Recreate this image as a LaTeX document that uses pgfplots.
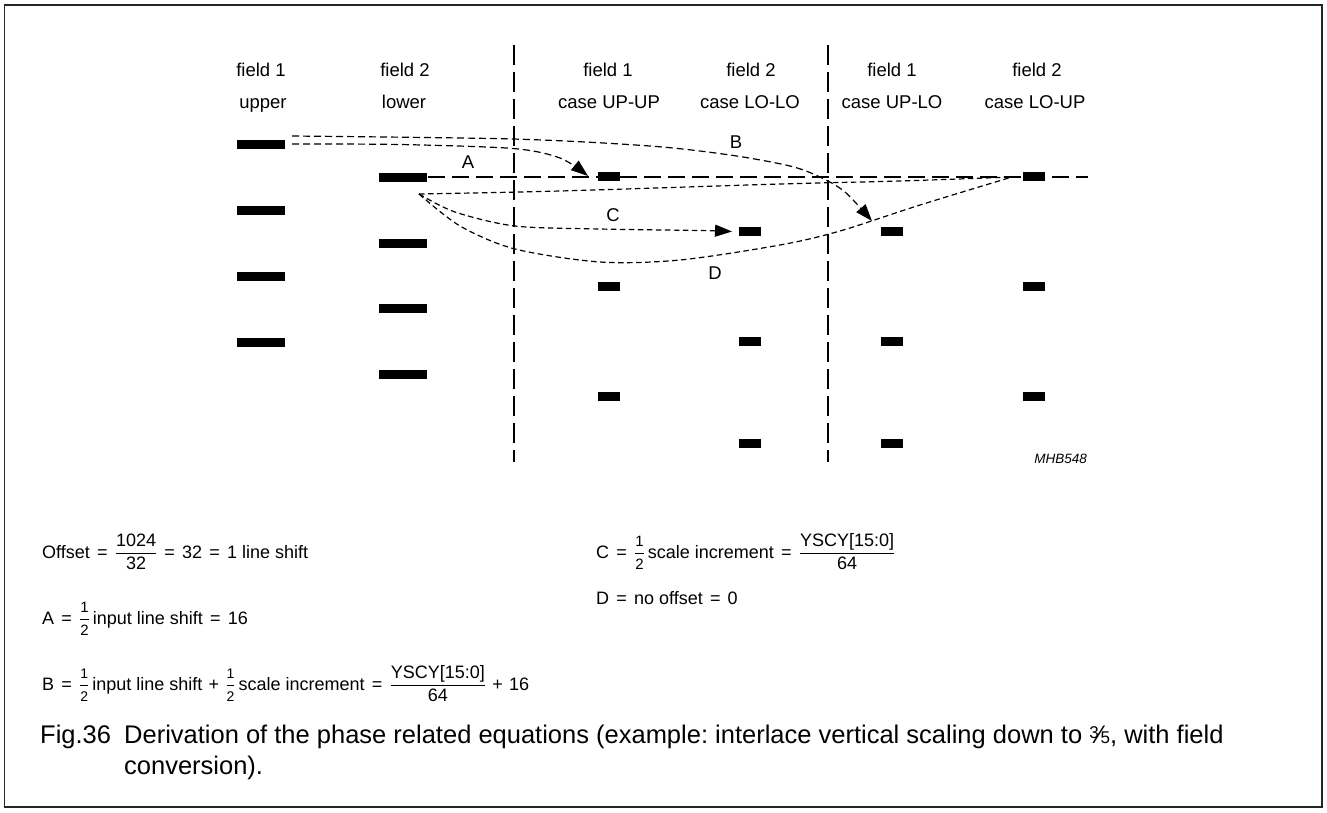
\documentclass[border=0pt]{standalone}
\usepackage{fontspec}
\setmainfont{Liberation Sans}
\usepackage{pgfplots}
\pgfplotsset{compat=1.18}
\usetikzlibrary{arrows.meta}
\frenchspacing
\pgfdeclareplotmark{longbar}{\pgfpathrectangle{\pgfpoint{-24pt}{-4.5pt}}{\pgfpoint{48pt}{9pt}}\pgfusepathqfill}
\pgfdeclareplotmark{shortbar}{\pgfpathrectangle{\pgfpoint{-11pt}{-4.5pt}}{\pgfpoint{22pt}{9pt}}\pgfusepathqfill}
\newcommand\hdr{\fontsize{18.5}{21}\selectfont}
\newcommand\eqf{\fontsize{18}{21}\selectfont}
\newcommand\capf{\fontsize{25.5}{30}\selectfont}
\newcommand\E{\hspace{0.4em}=\hspace{0.4em}}
\newcommand\PL{\hspace{0.35em}+\hspace{0.35em}}
\newcommand\half{$\displaystyle\frac{\mbox{\fontsize{15}{15}\selectfont 1}}{\mbox{\fontsize{15}{15}\selectfont 2}}$}
\newcommand\shalf{$\displaystyle\frac{\mbox{\fontsize{14}{14}\selectfont 1}}{\mbox{\fontsize{14}{14}\selectfont 2}}$}
\begin{document}
\begin{tikzpicture}
\begin{axis}[at={(0pt,0pt)}, anchor=south west, scale only axis,
  width=1327pt, height=812pt, xmin=0, xmax=1327, ymin=0, ymax=812,
  y dir=reverse, hide axis, clip=false]
\path (axis cs:0,0) rectangle (axis cs:1327,812);
% border
\draw[line width=1.3pt, black!85] (axis cs:4.5,5) rectangle (axis cs:1322,807);
% column separators
\addplot[line width=1.4pt, dash pattern=on 20pt off 7pt] coordinates {(514,45) (514,462)};
\addplot[line width=1.4pt, dash pattern=on 20pt off 7pt] coordinates {(828,45) (828,462)};
% horizontal reference
\addplot[line width=1.4pt, dash pattern=on 17pt off 7pt] coordinates {(428,177) (1088,177)};
% bars
\addplot[only marks, mark=longbar, black] coordinates {(261,144.5) (261,210.5) (261,276) (261,342)};
\addplot[only marks, mark=longbar, black] coordinates {(402.5,177.5) (402.5,243) (402.5,308.5) (402.5,374.5)};
\addplot[only marks, mark=shortbar, black] coordinates {(609,176.5) (609,286.5) (609,396.5)};
\addplot[only marks, mark=shortbar, black] coordinates {(750,231.5) (750,341.5) (750,443.5)};
\addplot[only marks, mark=shortbar, black] coordinates {(892,231.5) (892,341.5) (892,443.5)};
\addplot[only marks, mark=shortbar, black] coordinates {(1034,176.5) (1034,286.5) (1034,396.5)};
% curves
\addplot[smooth, tension=0.5, line width=1.2pt, dash pattern=on 7pt off 4pt, -{Triangle[length=17pt,width=12pt]}]
  coordinates {(292,144) (400,144.5) (513,148.5) (560,158) (588,176)};
\addplot[smooth, tension=0.5, line width=1.2pt, dash pattern=on 7pt off 4pt, -{Triangle[length=17pt,width=12pt]}]
  coordinates {(292,136) (513,139) (650,146) (730,155) (790,166) (820,177) (845,192) (872,221)};
\addplot[smooth, tension=0.5, line width=1.2pt, dash pattern=on 5.5pt off 3.5pt, -{Triangle[length=17pt,width=12pt]}]
  coordinates {(419,194) (455,212) (515,226) (600,229) (700,230.5) (732,231.5)};
\addplot[smooth, tension=0.5, line width=1.2pt, dash pattern=on 5.5pt off 3.5pt]
  coordinates {(419,194) (460,226) (515,249) (600,262) (680,260) (780,245) (840,231) (920,205) (1012,177)};
\addplot[smooth, tension=0.5, line width=1.2pt, dash pattern=on 5.5pt off 3.5pt]
  coordinates {(419,194) (560,191) (780,184) (900,181) (1012,177)};
% curve labels
\node[font=\hdr, inner sep=0pt] at (axis cs:468,162.5) {A};
\node[font=\hdr, inner sep=0pt] at (axis cs:736,142.5) {B};
\node[font=\hdr, inner sep=0pt] at (axis cs:613,215) {C};
\node[font=\hdr, inner sep=0pt] at (axis cs:715,273) {D};
% headers
\node[font=\hdr, inner sep=0pt, anchor=base] at (axis cs:261,76) {field 1};
\node[font=\hdr, inner sep=0pt, anchor=base] at (axis cs:263,108) {upper};
\node[font=\hdr, inner sep=0pt, anchor=base] at (axis cs:405,76) {field 2};
\node[font=\hdr, inner sep=0pt, anchor=base] at (axis cs:404,108) {lower};
\node[font=\hdr, inner sep=0pt, anchor=base] at (axis cs:608,76) {field 1};
\node[font=\hdr, inner sep=0pt, anchor=base] at (axis cs:609,108) {case UP-UP};
\node[font=\hdr, inner sep=0pt, anchor=base] at (axis cs:751,76) {field 2};
\node[font=\hdr, inner sep=0pt, anchor=base] at (axis cs:750,108) {case LO-LO};
\node[font=\hdr, inner sep=0pt, anchor=base] at (axis cs:892,76) {field 1};
\node[font=\hdr, inner sep=0pt, anchor=base] at (axis cs:892,108) {case UP-LO};
\node[font=\hdr, inner sep=0pt, anchor=base] at (axis cs:1037,76) {field 2};
\node[font=\hdr, inner sep=0pt, anchor=base] at (axis cs:1035,108) {case LO-UP};
\node[font=\fontsize{13.5}{16}\selectfont\itshape, inner sep=0pt, anchor=base east] at (axis cs:1087,463) {MHB548};
% equations
\node[font=\eqf, inner sep=0pt, anchor=base west] at (axis cs:42,558)
  {Offset\E$\displaystyle\frac{\mbox{1024}}{\mbox{32}}$\E32\E1 line shift};
\node[font=\eqf, inner sep=0pt, anchor=base west] at (axis cs:42,624)
  {A\E\half\,input line shift\E16};
\node[font=\eqf, inner sep=0pt, anchor=base west] at (axis cs:42,690)
  {B\E\shalf\,input line shift\PL\shalf\,scale increment\E$\displaystyle\frac{\mbox{YSCY[15:0]}}{\mbox{64}}$\PL16};
\node[font=\eqf, inner sep=0pt, anchor=base west] at (axis cs:596,558)
  {C\E\half\,scale increment\E$\displaystyle\frac{\mbox{YSCY[15:0]}}{\mbox{64}}$};
\node[font=\eqf, inner sep=0pt, anchor=base west] at (axis cs:596,604)
  {D\E no offset\E0};
% caption
\node[font=\capf, inner sep=0pt, anchor=base west] at (axis cs:40,743) {Fig.36};
\node[font=\capf, inner sep=0pt, anchor=base west] at (axis cs:124,743)
  {Derivation of the phase related equations (example: interlace vertical scaling down to {\raisebox{0.35ex}{\fontsize{17}{17}\selectfont 3}\kern-0.05em⁄\kern-0.05em\fontsize{17}{17}\selectfont 5}, with field};
\node[font=\capf, inner sep=0pt, anchor=base west] at (axis cs:124,774) {conversion).};
\end{axis}
\end{tikzpicture}
\end{document}
